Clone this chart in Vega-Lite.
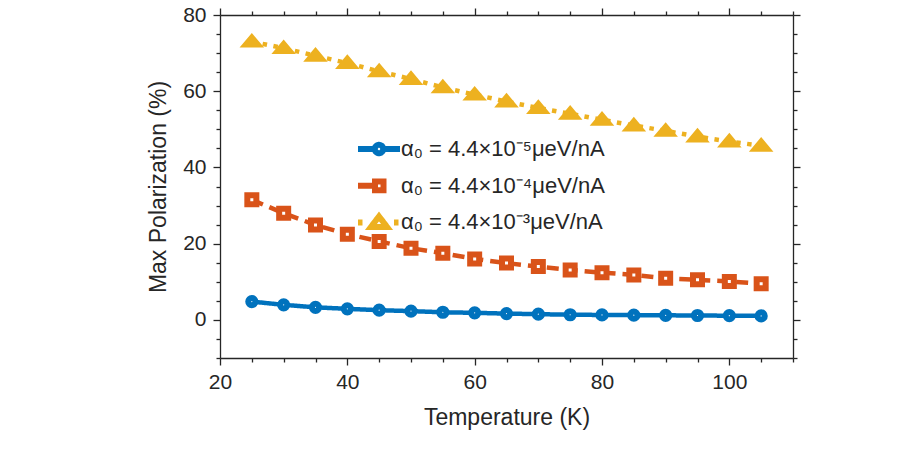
{
  "$schema": "https://vega.github.io/schema/vega-lite/v6.json",
  "width": 573,
  "height": 343,
  "autosize": {"type": "none"},
  "padding": {"left": 220, "top": 15, "right": 126, "bottom": 102},
  "background": "white",
  "config": {
    "view": {"stroke": null},
    "font": "Liberation Sans",
    "axis": {
      "grid": false,
      "domainColor": "#262626",
      "domainWidth": 1.3,
      "tickColor": "#262626",
      "tickWidth": 1.3,
      "labelColor": "#262626",
      "labelFont": "Liberation Sans",
      "labelFontSize": 21,
      "titleFont": "Liberation Sans",
      "titleFontSize": 23,
      "titleFontWeight": "normal",
      "titleColor": "#262626",
      "labelFlush": false,
      "labelOverlap": false,
      "labelBound": false
    },
    "legend": {
      "title": null,
      "orient": "none",
      "legendX": 135,
      "legendY": 121,
      "symbolSize": 400,
      "symbolStrokeWidth": 6,
      "labelFont": "Liberation Sans",
      "labelFontSize": 22,
      "labelColor": "#262626",
      "labelOffset": 20,
      "labelLimit": 0,
      "clipHeight": 26,
      "rowPadding": 10.7
    }
  },
  "data": {
    "values": [
      {"series": "α₀ = 4.4×10⁻⁵μeV/nA", "T": 25, "P": 4.8},
      {"series": "α₀ = 4.4×10⁻⁵μeV/nA", "T": 30, "P": 3.95},
      {"series": "α₀ = 4.4×10⁻⁵μeV/nA", "T": 35, "P": 3.3},
      {"series": "α₀ = 4.4×10⁻⁵μeV/nA", "T": 40, "P": 2.9},
      {"series": "α₀ = 4.4×10⁻⁵μeV/nA", "T": 45, "P": 2.55},
      {"series": "α₀ = 4.4×10⁻⁵μeV/nA", "T": 50, "P": 2.3},
      {"series": "α₀ = 4.4×10⁻⁵μeV/nA", "T": 55, "P": 2.0},
      {"series": "α₀ = 4.4×10⁻⁵μeV/nA", "T": 60, "P": 1.85},
      {"series": "α₀ = 4.4×10⁻⁵μeV/nA", "T": 65, "P": 1.65},
      {"series": "α₀ = 4.4×10⁻⁵μeV/nA", "T": 70, "P": 1.5},
      {"series": "α₀ = 4.4×10⁻⁵μeV/nA", "T": 75, "P": 1.35},
      {"series": "α₀ = 4.4×10⁻⁵μeV/nA", "T": 80, "P": 1.3},
      {"series": "α₀ = 4.4×10⁻⁵μeV/nA", "T": 85, "P": 1.25},
      {"series": "α₀ = 4.4×10⁻⁵μeV/nA", "T": 90, "P": 1.2},
      {"series": "α₀ = 4.4×10⁻⁵μeV/nA", "T": 95, "P": 1.15},
      {"series": "α₀ = 4.4×10⁻⁵μeV/nA", "T": 100, "P": 1.1},
      {"series": "α₀ = 4.4×10⁻⁵μeV/nA", "T": 105, "P": 1.05},
      {"series": "α₀ = 4.4×10⁻⁴μeV/nA", "T": 25, "P": 31.5},
      {"series": "α₀ = 4.4×10⁻⁴μeV/nA", "T": 30, "P": 28.0},
      {"series": "α₀ = 4.4×10⁻⁴μeV/nA", "T": 35, "P": 24.9},
      {"series": "α₀ = 4.4×10⁻⁴μeV/nA", "T": 40, "P": 22.5},
      {"series": "α₀ = 4.4×10⁻⁴μeV/nA", "T": 45, "P": 20.6},
      {"series": "α₀ = 4.4×10⁻⁴μeV/nA", "T": 50, "P": 18.8},
      {"series": "α₀ = 4.4×10⁻⁴μeV/nA", "T": 55, "P": 17.5},
      {"series": "α₀ = 4.4×10⁻⁴μeV/nA", "T": 60, "P": 16.0},
      {"series": "α₀ = 4.4×10⁻⁴μeV/nA", "T": 65, "P": 14.9},
      {"series": "α₀ = 4.4×10⁻⁴μeV/nA", "T": 70, "P": 14.0},
      {"series": "α₀ = 4.4×10⁻⁴μeV/nA", "T": 75, "P": 13.1},
      {"series": "α₀ = 4.4×10⁻⁴μeV/nA", "T": 80, "P": 12.4},
      {"series": "α₀ = 4.4×10⁻⁴μeV/nA", "T": 85, "P": 11.8},
      {"series": "α₀ = 4.4×10⁻⁴μeV/nA", "T": 90, "P": 10.9},
      {"series": "α₀ = 4.4×10⁻⁴μeV/nA", "T": 95, "P": 10.5},
      {"series": "α₀ = 4.4×10⁻⁴μeV/nA", "T": 100, "P": 10.1},
      {"series": "α₀ = 4.4×10⁻⁴μeV/nA", "T": 105, "P": 9.45},
      {"series": "α₀ = 4.4×10⁻³μeV/nA", "T": 25, "P": 73.0},
      {"series": "α₀ = 4.4×10⁻³μeV/nA", "T": 30, "P": 71.3},
      {"series": "α₀ = 4.4×10⁻³μeV/nA", "T": 35, "P": 69.3},
      {"series": "α₀ = 4.4×10⁻³μeV/nA", "T": 40, "P": 67.4},
      {"series": "α₀ = 4.4×10⁻³μeV/nA", "T": 45, "P": 65.2},
      {"series": "α₀ = 4.4×10⁻³μeV/nA", "T": 50, "P": 63.2},
      {"series": "α₀ = 4.4×10⁻³μeV/nA", "T": 55, "P": 61.0},
      {"series": "α₀ = 4.4×10⁻³μeV/nA", "T": 60, "P": 59.1},
      {"series": "α₀ = 4.4×10⁻³μeV/nA", "T": 65, "P": 57.3},
      {"series": "α₀ = 4.4×10⁻³μeV/nA", "T": 70, "P": 55.6},
      {"series": "α₀ = 4.4×10⁻³μeV/nA", "T": 75, "P": 54.1},
      {"series": "α₀ = 4.4×10⁻³μeV/nA", "T": 80, "P": 52.5},
      {"series": "α₀ = 4.4×10⁻³μeV/nA", "T": 85, "P": 51.0},
      {"series": "α₀ = 4.4×10⁻³μeV/nA", "T": 90, "P": 49.6},
      {"series": "α₀ = 4.4×10⁻³μeV/nA", "T": 95, "P": 48.1},
      {"series": "α₀ = 4.4×10⁻³μeV/nA", "T": 100, "P": 46.8},
      {"series": "α₀ = 4.4×10⁻³μeV/nA", "T": 105, "P": 45.7}
    ]
  },
  "layer": [
    {
      "mark": {"type": "line", "strokeWidth": 4.5, "strokeCap": "butt"},
      "encoding": {
        "x": {
          "field": "T", "type": "quantitative",
          "scale": {"domain": [20, 110], "nice": false, "zero": false},
          "axis": {
            "orient": "bottom",
            "title": "Temperature (K)",
            "values": [20, 25, 30, 35, 40, 45, 50, 55, 60, 65, 70, 75, 80, 85, 90, 95, 100, 105, 110],
            "labelExpr": "datum.value % 20 == 0 ? datum.label : ''",
            "tickSize": {"condition": {"test": "datum.value % 20 == 0", "value": 7}, "value": 4},
            "labelPadding": 6,
            "titlePadding": 14
          }
        },
        "y": {
          "field": "P", "type": "quantitative",
          "scale": {"domain": [-10, 80], "nice": false, "zero": false},
          "axis": {
            "orient": "left",
            "title": "Max Polarization (%)",
            "values": [-10, -5, 0, 5, 10, 15, 20, 25, 30, 35, 40, 45, 50, 55, 60, 65, 70, 75, 80],
            "labelExpr": "datum.value % 20 == 0 ? datum.label : ''",
            "tickSize": {"condition": {"test": "datum.value % 20 == 0", "value": 7}, "value": 4},
            "labelPadding": 7,
            "titlePadding": 12
          }
        },
        "color": {
          "field": "series", "type": "nominal",
          "scale": {
            "domain": ["α₀ = 4.4×10⁻⁵μeV/nA", "α₀ = 4.4×10⁻⁴μeV/nA", "α₀ = 4.4×10⁻³μeV/nA"],
            "range": ["#0072BD", "#D95319", "#EDB120"]
          },
          "legend": {
            "encode": {
              "symbols": {
                "update": {
                  "shape": {"signal": "indexof(datum.value, '⁻⁵') >= 0 ? 'M-1,0H0.68M1.52,0H3.2M1.52,0A0.42,0.42,0,1,1,0.68,0A0.42,0.42,0,1,1,1.52,0Z' : indexof(datum.value, '⁻⁴') >= 0 ? 'M-1,0H0.7M0.7,-0.42H1.55V0.45H0.7Z' : 'M-1,0H-0.55M2.6,0H3.05M1.1,-0.6L1.9,0.45L0.3,0.45Z'"},
                  "fill": {"value": "white"},
                  "fillOpacity": {"value": 1},
                  "strokeDash": {"value": [1, 0]},
                  "strokeWidth": {"value": 6},
                  "strokeCap": {"value": "butt"},
                  "opacity": {"value": 1}
                }
              }
            }
          }
        },
        "strokeDash": {
          "field": "series", "type": "nominal",
          "scale": {
            "domain": ["α₀ = 4.4×10⁻³μeV/nA", "α₀ = 4.4×10⁻⁴μeV/nA", "α₀ = 4.4×10⁻⁵μeV/nA"],
            "range": [[4.5, 6.5], [12, 7], [1, 0]]
          },
          "legend": null
        }
      }
    },
    {
      "mark": {"type": "point", "filled": false, "fill": "white", "fillOpacity": 1, "strokeWidth": 6, "size": 81, "opacity": 1},
      "encoding": {
        "x": {
          "field": "T", "type": "quantitative",
          "axis": {
            "orient": "top",
            "title": null,
            "values": [20, 25, 30, 35, 40, 45, 50, 55, 60, 65, 70, 75, 80, 85, 90, 95, 100, 105, 110],
            "labels": false,
            "tickSize": {"condition": {"test": "datum.value % 20 == 0", "value": 7}, "value": 4}
          }
        },
        "y": {
          "field": "P", "type": "quantitative",
          "axis": {
            "orient": "right",
            "title": null,
            "values": [-10, -5, 0, 5, 10, 15, 20, 25, 30, 35, 40, 45, 50, 55, 60, 65, 70, 75, 80],
            "labels": false,
            "tickSize": {"condition": {"test": "datum.value % 20 == 0", "value": 7}, "value": 4}
          }
        },
        "color": {"field": "series", "type": "nominal"},
        "shape": {
          "field": "series", "type": "nominal",
          "scale": {
            "domain": ["α₀ = 4.4×10⁻³μeV/nA", "α₀ = 4.4×10⁻⁴μeV/nA", "α₀ = 4.4×10⁻⁵μeV/nA"],
            "range": [
              "M0,-0.9L1.3,0.65L-1.3,0.65Z",
              "M-1,-1H1V1H-1Z",
              "M0.8,0A0.8,0.8,0,1,1,-0.8,0A0.8,0.8,0,1,1,0.8,0Z"
            ]
          },
          "legend": null
        }
      }
    }
  ],
  "resolve": {"axis": {"x": "independent", "y": "independent"}}
}
